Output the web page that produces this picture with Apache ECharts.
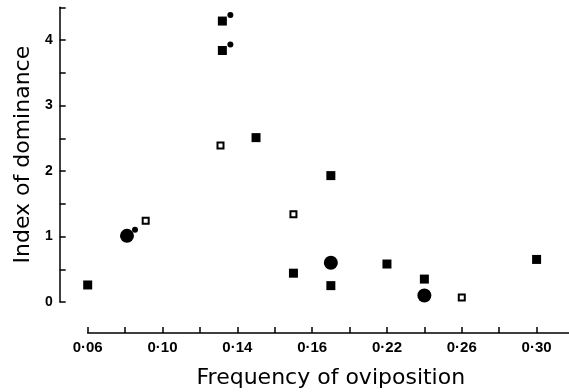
<!DOCTYPE html>
<html>
<head>
<meta charset="utf-8">
<script src="https://cdn.jsdelivr.net/npm/echarts@6/dist/echarts.min.js"></script>
<style>
html,body{margin:0;padding:0;background:#fff;}
#chart{width:569px;height:392px;}
</style>
</head>
<body>
<div id="chart"></div>
<script>
// x-axis tick labels as printed (every other tick, step 0.04 from 0.06)
const xTickValues = [0.06, 0.10, 0.14, 0.18, 0.22, 0.26, 0.30];
const xTickLabels = ['0·06', '0·10', '0·14', '0·16', '0·22', '0·26', '0·30'];
const yTickLabels = ['0', '1', '2', '3', '4'];

// filled squares [frequency, index]
const filledSquares = [
  [0.132, 4.29], [0.132, 3.84], [0.150, 2.51], [0.060, 0.26],
  [0.170, 0.44], [0.190, 1.93], [0.190, 0.25], [0.220, 0.58],
  [0.240, 0.35], [0.300, 0.65]
];
// open squares
const openSquares = [
  [0.131, 2.39], [0.091, 1.24], [0.170, 1.34], [0.260, 0.07]
];
// large filled circles
const circles = [
  [0.081, 1.01], [0.190, 0.60], [0.240, 0.10]
];
// points marked with an asterisk dot
const starred = [
  [0.132, 4.29], [0.132, 3.84], [0.081, 1.01]
];

const labelFont = 'Liberation Sans';
const titleFont = 'DejaVu Sans';
const chart = echarts.init(document.getElementById('chart'), null, {renderer: 'canvas'});
chart.setOption({
  animation: false,
  backgroundColor: '#fff',
  grid: {left: 87.7, right: -5, top: 7.3, bottom: 90, outerBoundsMode: 'none', containLabel: false},
  xAxis: {
    type: 'value', min: 0.06, max: 0.32, interval: 0.02,
    offset: 31,
    axisLine: {show: true, onZero: false, lineStyle: {color: '#000', width: 1.5}},
    axisTick: {show: true, inside: true, length: 6, lineStyle: {color: '#000', width: 1.5}},
    splitLine: {show: false},
    axisLabel: {
      color: '#000', fontFamily: labelFont, fontWeight: 'bold', fontSize: 15, margin: 7,
      formatter: function (v) {
        for (let i = 0; i < xTickValues.length; i++) {
          if (Math.abs(v - xTickValues[i]) < 1e-6) return xTickLabels[i];
        }
        return '';
      }
    },
    name: 'Frequency of oviposition', nameLocation: 'middle', nameGap: 34,
    nameTextStyle: {color: '#000', fontFamily: titleFont, fontSize: 22}
  },
  yAxis: {
    type: 'value', min: 0, max: 4.5, interval: 0.5,
    offset: 28,
    axisLine: {show: true, onZero: false, lineStyle: {color: '#000', width: 1.5}},
    axisTick: {show: true, inside: true, length: 6, lineStyle: {color: '#000', width: 1.5}},
    splitLine: {show: false},
    axisLabel: {
      color: '#000', fontFamily: labelFont, fontWeight: 'bold', fontSize: 14, margin: 7,
      formatter: function (v) {
        const r = Math.round(v);
        return Math.abs(v - r) < 1e-6 ? yTickLabels[r] : '';
      }
    },
    name: 'Index of dominance', nameLocation: 'middle', nameGap: 25, nameRotate: 90,
    nameTextStyle: {color: '#000', fontFamily: titleFont, fontSize: 22}
  },
  series: [
    {type: 'scatter', data: filledSquares, symbol: 'rect', symbolSize: 9,
     itemStyle: {color: '#000', opacity: 1}},
    {type: 'scatter', data: openSquares, symbol: 'rect', symbolSize: 6,
     itemStyle: {color: '#fff', borderColor: '#000', borderWidth: 2, opacity: 1}},
    {type: 'scatter', data: circles, symbol: 'circle', symbolSize: 14,
     itemStyle: {color: '#000', opacity: 1}},
    {type: 'scatter', data: starred, symbol: 'circle', symbolSize: 6,
     symbolOffset: [8, -6], itemStyle: {color: '#000', opacity: 1}}
  ]
});
</script>
</body>
</html>
